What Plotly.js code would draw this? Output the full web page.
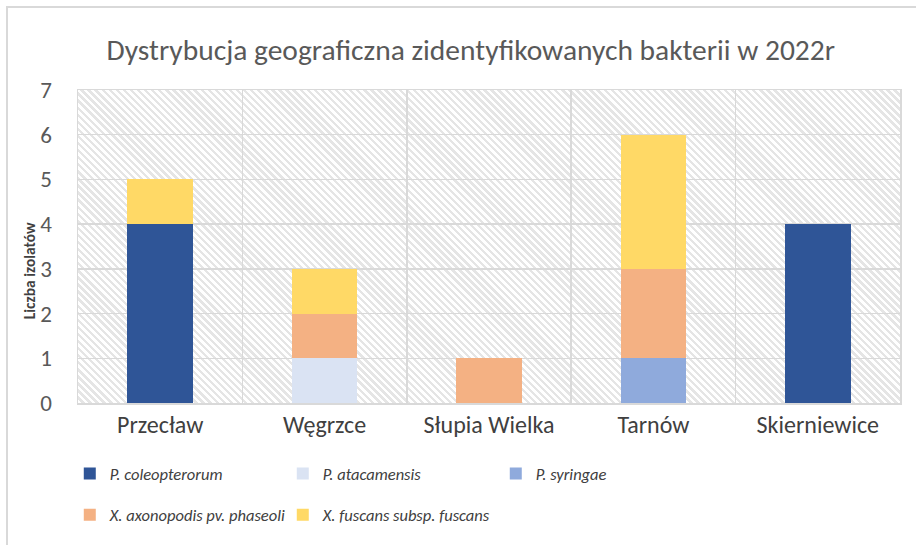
<!DOCTYPE html>
<html><head><meta charset="utf-8">
<script src="https://cdn.plot.ly/plotly-3.0.1.min.js"></script>
<style>
html,body{margin:0;padding:0;background:#fff;overflow:hidden;}
#wrap{position:relative;width:916px;height:545px;overflow:hidden;}
#hatch{position:absolute;left:78px;top:90px;width:822px;height:313px;
 background:repeating-linear-gradient(45deg,#ffffff 0px,#ffffff 2.6px,#e5e5e5 2.6px,#e5e5e5 5px);}
#frame{position:absolute;left:6px;top:6px;width:1000px;height:1000px;border:2px solid #d9d9d9;box-sizing:border-box;pointer-events:none;}
#chart{position:absolute;left:0;top:0;width:916px;height:545px;}
</style></head>
<body>
<div id="wrap"><div id="hatch"></div><div id="frame"></div><div id="chart"></div></div>
<script>
const categories = ["Przecław", "Węgrzce", "Słupia Wielka", "Tarnów", "Skierniewice"];
const seriesNames = ["P. coleopterorum", "P. atacamensis", "P. syringae", "X. axonopodis pv. phaseoli", "X. fuscans subsp. fuscans"];
const pColeopterorum = [4, 0, 0, 0, 4];
const pAtacamensis   = [0, 1, 0, 0, 0];
const pSyringae      = [0, 0, 0, 1, 0];
const xAxonopodis    = [0, 1, 1, 2, 0];
const xFuscans       = [1, 1, 0, 3, 0];
const colors = ["#2F5597", "#DAE3F3", "#8FAADC", "#F4B183", "#FFD966"];
const yTicks = [0, 1, 2, 3, 4, 5, 6, 7];

const values = [pColeopterorum, pAtacamensis, pSyringae, xAxonopodis, xFuscans];
const traces = values.map((v, i) => ({
  type: "bar", x: categories, y: v, name: "<i>" + seriesNames[i] + "</i>",
  marker: {color: colors[i], line: {width: 0}}, width: 0.4,
  legend: i < 3 ? "legend" : "legend2", hoverinfo: "skip"
}));

const font = "Carlito, Calibri, 'Noto Sans', sans-serif";
const legendBase = {orientation: "h", x: -0.01, xanchor: "left", yanchor: "middle", traceorder: "normal",
    itemwidth: 30, entrywidth: 168, entrywidthmode: "pixels", bgcolor: "rgba(0,0,0,0)",
    font: {family: font, size: 16.5, color: "#404040"}};
const layout = {
  width: 916, height: 545, barmode: "stack",
  paper_bgcolor: "rgba(0,0,0,0)", plot_bgcolor: "rgba(0,0,0,0)",
  margin: {l: 78, r: 16, t: 90, b: 142},
  font: {family: font, color: "#595959"},
  title: {text: "Dystrybucja geograficzna zidentyfikowanych bakterii w 2022r", x: 0.514, xanchor: "center", y: 0.908, yanchor: "middle",
    font: {family: font, size: 29.5, color: "#595959"}},
  xaxis: {type: "category", tickson: "boundaries", showgrid: true, gridcolor: "#d9d9d9", gridwidth: 1.5,
    showline: true, linecolor: "#d9d9d9", linewidth: 1.5, mirror: true,
    ticks: "outside", ticklen: 32, tickcolor: "rgba(0,0,0,0)",
    tickfont: {family: font, size: 24, color: "#404040"}, zeroline: false},
  yaxis: {range: [0, 7], tickvals: yTicks, showgrid: true, gridcolor: "#d9d9d9", gridwidth: 1.5,
    showline: true, linecolor: "#d9d9d9", linewidth: 1.5, mirror: true, zeroline: false,
    ticks: "outside", ticklen: 20, tickcolor: "rgba(0,0,0,0)",
    tickfont: {family: font, size: 23, color: "#595959"}},
  annotations: [{text: "<b>Liczba izolatów</b>", textangle: -90, xref: "paper", yref: "paper",
    x: -0.058, y: 0.422, xanchor: "center", yanchor: "middle", showarrow: false,
    font: {family: font, size: 15.5, color: "#404040"}}],
  legend: Object.assign({}, legendBase, {y: -0.226}),
  legend2: Object.assign({}, legendBase, {y: -0.358})
};
Plotly.newPlot("chart", traces, layout, {displayModeBar: false, staticPlot: true});
</script>
</body></html>
